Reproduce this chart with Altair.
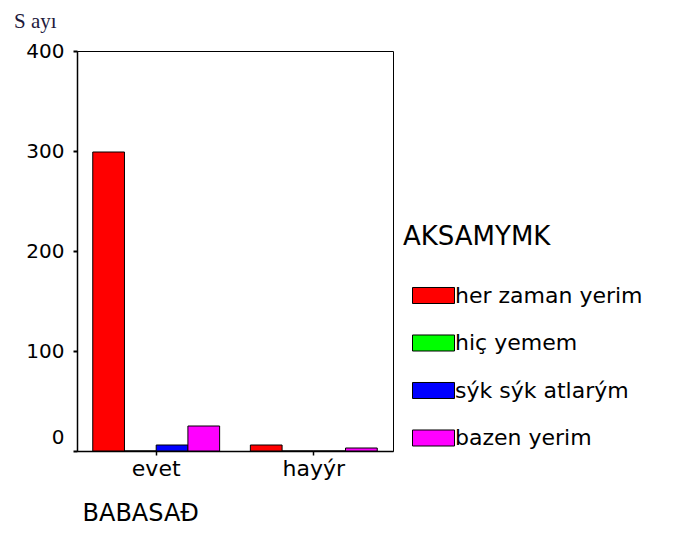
import altair as alt
import pandas as pd

groups = ["evet", "hayýr"]
series = ["her zaman yerim", "hiç yemem", "sýk sýk atlarým", "bazen yerim"]
colors = ["#ff0000", "#00ff00", "#0000ff", "#ff00ff"]
evet_values = [299, 0, 6, 25]
hayyr_values = [6, 0, 0, 3]
y_ticks = [0, 100, 200, 300, 400]

rows = []
for g, vals in zip(groups, [evet_values, hayyr_values]):
    for s, v in zip(series, vals):
        rows.append({"group": g, "series": s, "value": v})
df = pd.DataFrame(rows)

FONT = "DejaVu Sans"

chart = alt.Chart(df).mark_bar(stroke="black", strokeWidth=1).encode(
    x=alt.X(
        "group:N",
        sort=groups,
        scale=alt.Scale(paddingInner=0.195, paddingOuter=0.1),
        axis=alt.Axis(
            labelFont=FONT, labelFontSize=22, labelAngle=0, labelColor="black",
            labelPadding=3, tickSize=4, tickWidth=1.5, tickColor="black",
            domainColor="black", domainWidth=1.5,
            title="BABASAÐ", titleFont=FONT, titleFontSize=24,
            titleFontWeight="normal", titleColor="black",
            titleAnchor="start", titleAlign="left", titleBaseline="alphabetic",
            titleX=5, titleY=69,
        ),
    ),
    xOffset=alt.XOffset("series:N", sort=series,
                        scale=alt.Scale(paddingInner=0, paddingOuter=0)),
    y=alt.Y(
        "value:Q",
        scale=alt.Scale(domain=[0, 400], nice=False),
        axis=alt.Axis(
            values=y_ticks, grid=False, title=None,
            labelFont=FONT, labelFontSize=20, labelColor="black",
            labelPadding=9, tickSize=4, tickWidth=2, tickColor="black",
            domainColor="black", domainWidth=1.5,
            labelOffset={"condition": {"test": "datum.value == 0", "value": -14}, "value": 0},
        ),
    ),
    color=alt.Color(
        "series:N",
        sort=series,
        scale=alt.Scale(domain=series, range=colors),
        legend=alt.Legend(
            title="AKSAMYMK", orient="none", legendX=326, legendY=173,
            titleFont=FONT, titleFontSize=26, titleFontWeight="normal",
            titleColor="black", titlePadding=24,
            labelFont=FONT, labelFontSize=22, labelColor="black",
            labelOffset=0, labelLimit=400,
            symbolType="M-1,-0.381L1,-0.381L1,0.381L-1,0.381Z",
            symbolSize=1764, symbolStrokeColor="black", symbolStrokeWidth=1,
            symbolOpacity=1, symbolOffset=9, rowPadding=14.5, padding=0,
        ),
    ),
).properties(
    width=316,
    height=400,
    title=alt.TitleParams(
        "S ayı", anchor="start", frame="group", dx=-63, offset=-8,
        baseline="alphabetic", font="Liberation Serif", fontSize=21,
        fontWeight="normal", color="#1e1a3c", limit=200,
    ),
    autosize=alt.AutoSizeParams(type="none"),
    padding={"left": 69, "top": 43, "right": 286, "bottom": 75},
).configure_view(stroke="black", strokeWidth=1)

chart.save("out.html", embed_options={"renderer": "svg", "actions": False})
